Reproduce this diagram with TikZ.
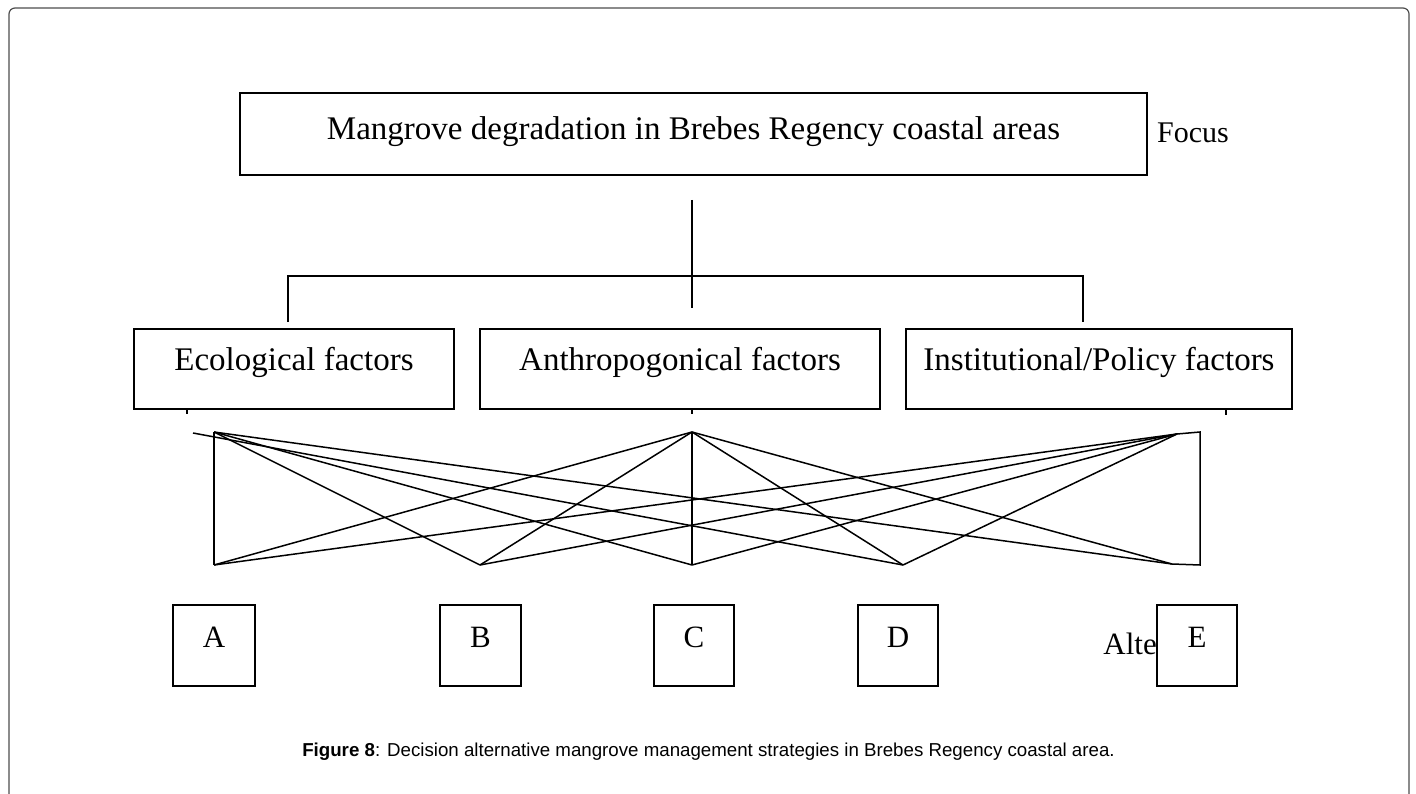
\documentclass[tikz,border=0pt]{standalone}
\usepackage{fontspec}
\setmainfont{Liberation Serif}
\newfontfamily\capfont{Liberation Sans}
\usetikzlibrary{positioning,calc}
\definecolor{framegray}{HTML}{4D4D4D}
\tikzset{
    goal/.style={draw, line width=1.4pt, inner sep=0pt, font=\fontsize{33}{35}\selectfont},
    factor/.style={goal, minimum width=#1, text height=41pt, text depth=39pt},
    altbox/.style={goal, minimum width=80pt, text height=42pt, text depth=39pt, font=\fontsize{31}{33}\selectfont},
    link/.style={line width=1.5pt},
    frame/.style={draw=framegray, line width=1.2pt, rounded corners=6pt}
}

\begin{document}
\begin{tikzpicture}[x=1pt, y=-1pt]
                \useasboundingbox (0,0) rectangle (1416,794);
                \draw[frame] (9,794) -- (9,8) -- (1409,8) -- (1409,794);

                % focus and factors
                \node[goal, minimum width=907pt, text height=47pt, text depth=35pt] (goal) at (693.5,134) {Mangrove degradation in Brebes Regency coastal areas};
                \node[anchor=base west, inner sep=0pt, font=\fontsize{30}{32}\selectfont] (focus) at (1157,143) {Focus};
                \node[factor=320pt] (eco) at (294,369) {Ecological factors};
                \node[factor=400pt, right=24.6pt of eco] (anthro) {Anthropogonical factors};
                \node[factor=386pt, right=24.6pt of anthro] (inst) {Institutional/Policy factors};

                \coordinate (stemtop) at (692,200);
                \coordinate (stembot) at (692,308);
                \coordinate (barl) at (288,276);
                \coordinate (barr) at (1083,276);
                \draw[link] (stemtop) -- (stembot);
                \draw[link] (barl |- 0,322) -- (barl) -- (barr) -- (barr |- 0,322);
                \draw[link] (187,0 |- eco.south) -- ++(0,4);
                \draw[link] (692,0 |- anthro.south) -- ++(0,4);
                \draw[link] (1226,0 |- inst.south) -- ++(0,5);

                % alternatives
                \node[altbox, minimum width=82pt] (A) at (214,645.5) {A};
                \node[altbox, minimum width=81pt] (B) at (480.5,645.5) {B};
                \node[altbox] (C) at (694,645.5) {C};
                \node[altbox] (D) at (898,645.5) {D};
                \node[altbox] (E) at (1197,645.5) {E};
                \node[anchor=base east, inner sep=0pt, font=\fontsize{31}{33}\selectfont] (alte) at (1157,654) {Alte};

                % criss-cross links
                \coordinate (lt) at (214,432);
                \coordinate (lt0) at (193,433);
                \coordinate (mt) at (692,432);
                \coordinate (et) at (1177,434);
                \coordinate (rt) at (1200,432);
                \coordinate (ab) at (214,565);
                \coordinate (bb) at (480,565);
                \coordinate (cb) at (692,565);
                \coordinate (db) at (903,565);
                \coordinate (eb) at (1172,564);
                \coordinate (rb) at (1200,565);

                \draw[link] (lt) -- (ab);
                \draw[link] (mt) -- (cb);
                \draw[link] (et) -- (rt) -- (rb) -- (eb);
                \draw[link] (lt) -- (bb);
                \draw[link] (lt) -- (cb);
                \draw[link] (lt0) -- (db);
                \draw[link] (lt) -- (eb);
                \draw[link] (ab) -- (mt);
                \draw[link] (ab) -- (et);
                \draw[link] (bb) -- (mt);
                \draw[link] (bb) -- (et);
                \draw[link] (cb) -- (et);
                \draw[link] (db) -- (mt);
                \draw[link] (db) -- (et);
                \draw[link] (mt) -- (eb);

                \node[anchor=base, inner sep=0pt, font=\capfont\fontsize{18.7}{20}\selectfont] (caption) at (708.5,756) {\textbf{Figure 8}: Decision alternative mangrove management strategies in Brebes Regency coastal area.};
            \end{tikzpicture}
\end{document}
